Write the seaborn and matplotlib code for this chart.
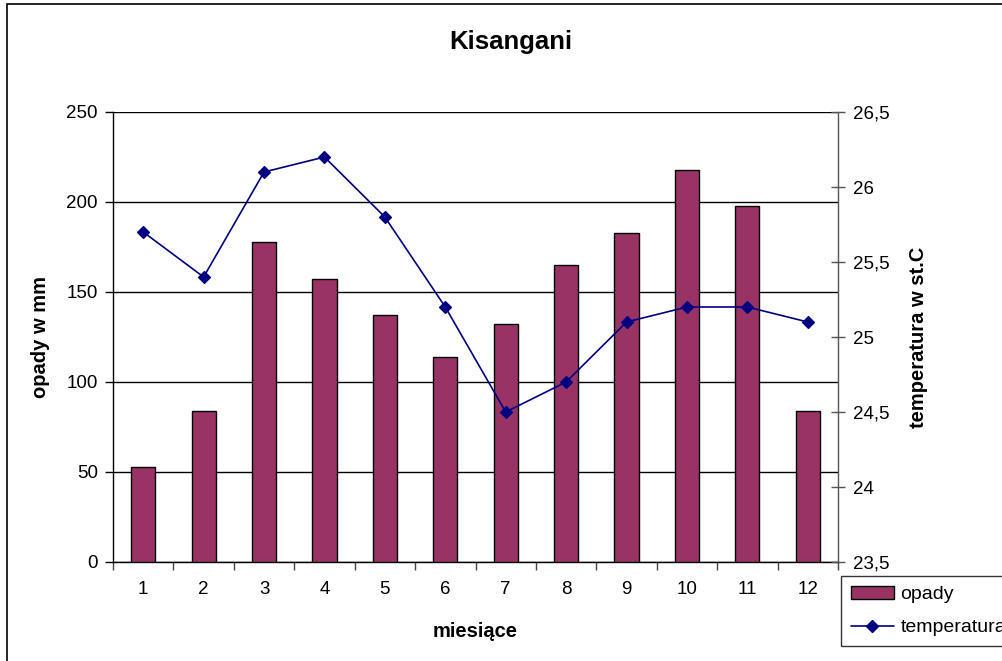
import matplotlib
matplotlib.use("Agg")
import matplotlib.pyplot as plt
import seaborn as sns
import pandas as pd
from matplotlib.patches import Rectangle, Patch
from matplotlib.lines import Line2D
from matplotlib.ticker import FuncFormatter, FixedLocator

# Monthly climate data for Kisangani
months = ["1", "2", "3", "4", "5", "6", "7", "8", "9", "10", "11", "12"]
opady = [53, 84, 178, 157, 137, 114, 132, 165, 183, 218, 198, 84]
temperatura = [25.7, 25.4, 26.1, 26.2, 25.8, 25.2, 24.5, 24.7, 25.1, 25.2, 25.2, 25.1]
left_ticks = [0, 50, 100, 150, 200, 250]
right_ticks = [23.5, 24, 24.5, 25, 25.5, 26, 26.5]

df = pd.DataFrame({"miesiac": months, "opady": opady, "temperatura": temperatura})

sns.set_theme(style="white")
plt.rcParams["font.family"] = ["Liberation Sans", "DejaVu Sans"]
plt.rcParams["text.color"] = "black"
plt.rcParams["axes.labelcolor"] = "black"
plt.rcParams["xtick.color"] = "black"
plt.rcParams["ytick.color"] = "black"

W, H = 1002, 661
fig = plt.figure(figsize=(W / 100, H / 100), dpi=100)

# outer chart frame (runs past the right and bottom edges)
fig.patches.append(Rectangle((7 / W, -0.1), 1.2, 1 - 4 / H + 0.1,
                             transform=fig.transFigure, fill=False,
                             edgecolor="black", linewidth=1.2, zorder=0))

ax = fig.add_axes([113 / W, 1 - 562 / H, 725 / W, 450 / H])

bar_color = "#993366"
line_color = "#000080"
tick_fs = 13.5
label_fs = 14.5

sns.barplot(data=df, x="miesiac", y="opady", order=months, ax=ax,
            color=bar_color, width=0.4, edgecolor="black", linewidth=1.0,
            saturation=1, zorder=3)

ax.set_ylim(0, 250)
ax.set_xlim(-0.5, 11.5)
ax.set_yticks(left_ticks)
ax.yaxis.grid(True, color="black", linewidth=1.0, zorder=0)
ax.set_axisbelow(True)
for s in ["top", "right"]:
    ax.spines[s].set_visible(False)
for s in ["left", "bottom"]:
    ax.spines[s].set_color("black")
    ax.spines[s].set_linewidth(1.0)

ax.tick_params(axis="y", which="major", direction="out", length=6, width=1,
               color="black", labelsize=tick_fs, pad=5, left=True)
ax.tick_params(axis="x", which="major", length=0, labelsize=tick_fs, pad=14)
ax.xaxis.set_minor_locator(FixedLocator([i - 0.5 for i in range(13)]))
ax.tick_params(axis="x", which="minor", direction="out", length=6, width=1,
               color="#444444", bottom=True)

ax.set_xlabel("miesiące", fontsize=label_fs, fontweight="bold", labelpad=17)
ax.set_ylabel("opady w mm", fontsize=label_fs, fontweight="bold", labelpad=12)

ax2 = ax.twinx()
sns.pointplot(data=df, x="miesiac", y="temperatura", order=months, ax=ax2,
              color=line_color, markers="D", linestyles="-",
              linewidth=1.2, markersize=6.5, errorbar=None, zorder=4)
ax2.set_ylim(23.5, 26.5)
ax2.set_xlim(-0.5, 11.5)
ax2.set_yticks(right_ticks)
ax2.yaxis.set_major_formatter(FuncFormatter(lambda v, p: f"{v:g}".replace(".", ",")))
for s in ["top", "left", "bottom"]:
    ax2.spines[s].set_visible(False)
ax2.spines["right"].set_color("#555555")
ax2.spines["right"].set_linewidth(1.0)
ax2.tick_params(axis="y", direction="inout", length=10, width=1,
                color="#555555", labelsize=tick_fs, pad=6, right=True)
ax2.set_ylabel("temperatura w st.C", fontsize=label_fs, fontweight="bold",
               labelpad=14, rotation=90)
ax2.grid(False)
ax2.set_xlabel("")

fig.text(511 / W, 1 - 42 / H, "Kisangani", ha="center", va="center",
         fontsize=18.5, fontweight="bold")

handles = [
    Patch(facecolor=bar_color, edgecolor="black", linewidth=1.0, label="opady"),
    Line2D([0], [0], color=line_color, marker="D", markersize=6.5,
           linewidth=1.2, label="temperatura"),
]
leg = fig.legend(handles=handles, loc="upper left",
                 bbox_to_anchor=(841 / W, 1 - 576 / H),
                 bbox_transform=fig.transFigure, frameon=True, fancybox=False,
                 edgecolor="black", fontsize=14, handlelength=2.2,
                 handleheight=0.7, borderpad=0.5, labelspacing=0.8,
                 handletextpad=0.35, borderaxespad=0)
leg.get_frame().set_linewidth(1.0)

fig.savefig("out.png", dpi=100)
